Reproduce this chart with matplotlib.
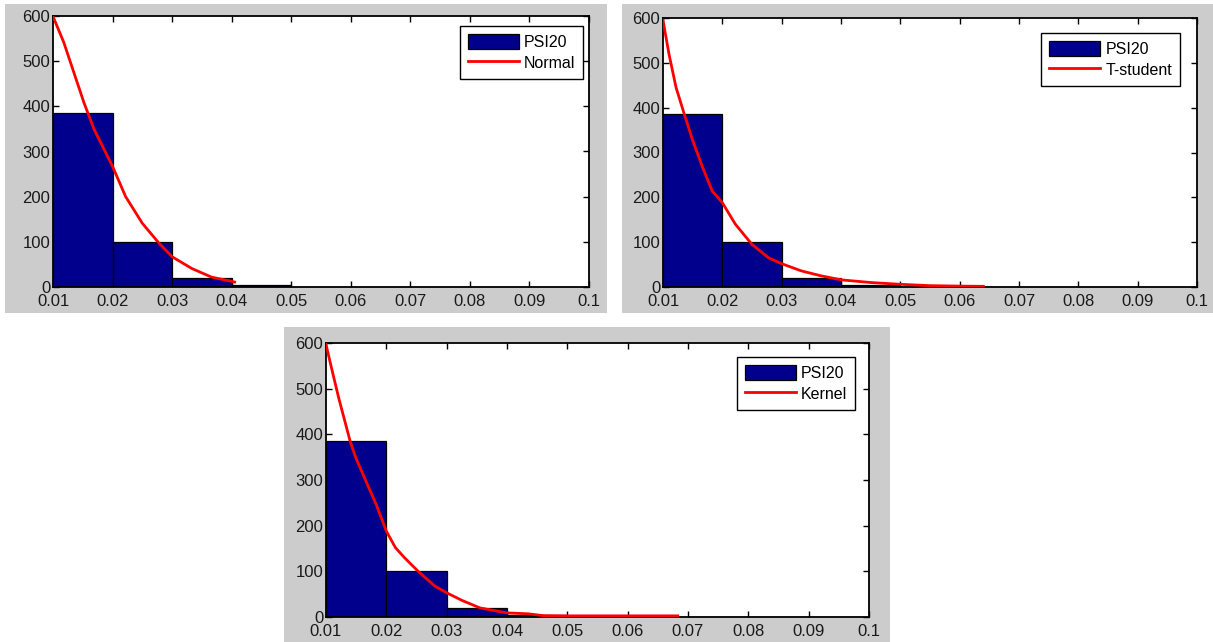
import matplotlib
matplotlib.use("Agg")
import matplotlib.pyplot as plt
from matplotlib.patches import Rectangle

plt.rcParams['font.family'] = ['Liberation Sans', 'DejaVu Sans']

# ---------------- data ----------------
bin_edges = [0.01, 0.02, 0.03, 0.04, 0.05, 0.06, 0.07, 0.08, 0.09, 0.10]
counts = [385, 100, 19, 4, 1, 1, 1, 0, 1]

normal_x = [0.0100, 0.0118, 0.0135, 0.0152, 0.0169, 0.0186, 0.0200, 0.0222,
            0.0250, 0.0278, 0.0300, 0.0333, 0.0366, 0.0405]
normal_y = [599, 542, 475, 408, 349, 304, 267, 200, 141, 97, 67, 41, 22, 11]

tstud_x = [0.0100, 0.0110, 0.0122, 0.0136, 0.0150, 0.0167, 0.0183, 0.0200,
           0.0222, 0.0250, 0.0278, 0.0300, 0.0333, 0.0366, 0.0400, 0.0450,
           0.0500, 0.0550, 0.0600, 0.0640]
tstud_y = [595, 520, 445, 385, 327, 266, 214, 188, 140, 95, 65, 52, 36, 25,
           16, 10, 6, 3, 2, 1.5]

kernel_x = [0.0100, 0.0109, 0.0121, 0.0132, 0.0140, 0.0149, 0.0166, 0.0183,
            0.0200, 0.0215, 0.0230, 0.0252, 0.0280, 0.0300, 0.0326, 0.0355,
            0.0383, 0.0400, 0.0435, 0.0460, 0.0500, 0.0600, 0.0683]
kernel_y = [597, 546, 480, 425, 385, 350, 298, 247, 188, 152, 130, 101, 68,
            53, 36, 20, 13, 9, 7, 3, 2.5, 2.5, 2.5]

hist_label = "PSI20"
fit_labels = ["Normal", "T-student", "Kernel"]
xticks = [0.01, 0.02, 0.03, 0.04, 0.05, 0.06, 0.07, 0.08, 0.09, 0.10]
xtick_labels = ["0.01", "0.02", "0.03", "0.04", "0.05", "0.06", "0.07", "0.08", "0.09", "0.1"]
yticks = [0, 100, 200, 300, 400, 500, 600]
ytick_labels = ["0", "100", "200", "300", "400", "500", "600"]

# ---------------- layout ----------------
W, H = 1213, 642
fig = plt.figure(figsize=(W / 100, H / 100), dpi=100)
fig.patch.set_facecolor('white')


def frect(x0, y0, x1, y1):
    return [x0 / W, 1 - y1 / H, (x1 - x0) / W, (y1 - y0) / H]


panels = [(5, 4, 607, 313), (622, 4, 1213, 313), (284, 327, 890, 642)]
axes_px = [(53, 16, 589, 287), (663, 18, 1197, 287), (326, 343, 869, 617)]
legend_px = [(459, 26, 583, 78), (1041, 33, 1180, 87), (735, 357, 855, 411)]
fits = [(normal_x, normal_y), (tstud_x, tstud_y), (kernel_x, kernel_y)]

for p in panels:
    x0, y0, x1, y1 = p
    fig.patches.append(Rectangle((x0 / W, 1 - y1 / H), (x1 - x0) / W, (y1 - y0) / H,
                                 transform=fig.transFigure, facecolor='#cccccc',
                                 edgecolor='none', zorder=-10))

widths = [bin_edges[i + 1] - bin_edges[i] for i in range(len(counts))]

for i in range(3):
    ax = fig.add_axes(frect(*axes_px[i]))
    ax.set_zorder(5)
    ax.set_facecolor('white')
    bars = ax.bar(bin_edges[:-1], counts, width=widths, align='edge',
                  color='#00008c', edgecolor='black', linewidth=0.9,
                  label=hist_label, zorder=2)
    fx, fy = fits[i]
    ln, = ax.plot(fx, fy, color='#ff0000', linewidth=2.0, label=fit_labels[i],
                  zorder=3, solid_joinstyle='round')
    ax.set_xlim(0.01, 0.10)
    ax.set_ylim(0, 600)
    ax.set_xticks(xticks)
    ax.set_xticklabels(xtick_labels)
    ax.set_yticks(yticks)
    ax.set_yticklabels(ytick_labels)
    ax.tick_params(direction='in', length=4.5, width=1.0, top=True, right=True,
                   labelsize=12, colors='black', labelcolor='#1a1a1a')
    ax.tick_params(axis='x', pad=5)
    ax.tick_params(axis='y', pad=2)
    for s in ax.spines.values():
        s.set_linewidth(1.3)
        s.set_color('black')

    lx0, ly0, lx1, ly1 = legend_px[i]
    ax_x0, ax_y0, ax_x1, ax_y1 = axes_px[i]
    aw, ah = ax_x1 - ax_x0, ax_y1 - ax_y0
    anchor = ((lx1 - ax_x0) / aw, (ax_y1 - ly0) / ah)
    leg = ax.legend(handles=[bars, ln], labels=[hist_label, fit_labels[i]],
                    loc='upper right', bbox_to_anchor=anchor, borderaxespad=0,
                    fancybox=False, framealpha=1, edgecolor='black',
                    fontsize=11.5, handlelength=3.2, handleheight=1.1,
                    handletextpad=0.3, labelspacing=0.3, borderpad=0.5)
    leg.get_frame().set_linewidth(1.0)

fig.savefig('out.png', dpi=100, facecolor='white')
